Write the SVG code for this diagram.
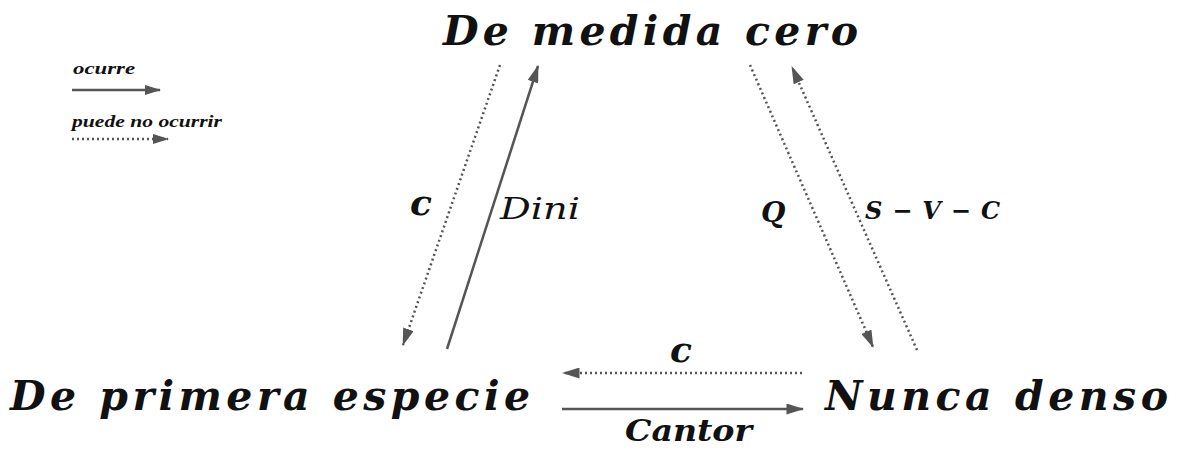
<svg xmlns="http://www.w3.org/2000/svg" width="1181" height="450" viewBox="0 0 1181 450">
<style>
.t{font-family:"DejaVu Serif","Liberation Serif",serif;font-style:italic;font-weight:bold;fill:#111}
.n{font-weight:normal}
.l{font-family:"Liberation Serif","DejaVu Serif",serif;font-style:italic;font-weight:bold;fill:#111}
.s{stroke:#555;stroke-width:2.5;fill:none}
.d{stroke:#555;stroke-width:2.5;fill:none;stroke-dasharray:2 3}
</style>
<defs>
<marker id="ah" viewBox="0 0 16 10" refX="15" refY="5" markerWidth="18" markerHeight="11" markerUnits="userSpaceOnUse" orient="auto">
<path d="M0,0 L16,5 L0,10 Z" fill="#555"/>
</marker>
<marker id="ahs" viewBox="0 0 16 10" refX="15" refY="5" markerWidth="22" markerHeight="10" markerUnits="userSpaceOnUse" orient="auto">
<path d="M0,0 L16,5 L0,10 Z" fill="#555"/>
</marker>
</defs>
<rect width="1181" height="450" fill="#fff"/>
<g id="legend">
<text class="l" x="73" y="74" font-size="17" textLength="62" lengthAdjust="spacingAndGlyphs">ocurre</text>
<line class="s" x1="72" y1="90" x2="160" y2="90" marker-end="url(#ahs)"/>
<text class="l" x="72" y="127" font-size="17" textLength="150" lengthAdjust="spacingAndGlyphs">puede no ocurrir</text>
<line class="d" x1="72" y1="139" x2="168" y2="139" marker-end="url(#ahs)"/>
</g>
<g id="node-medida"><text class="t" x="443" y="45" font-size="41" textLength="415" lengthAdjust="spacing">De medida cero</text></g>
<g id="node-primera"><text class="t" x="10" y="410" font-size="41" textLength="520" lengthAdjust="spacing">De primera especie</text></g>
<g id="node-nunca"><text class="t" x="825" y="410" font-size="41" textLength="343" lengthAdjust="spacing">Nunca denso</text></g>
<g id="connectors">
<line class="d" x1="500" y1="65" x2="403" y2="345" marker-end="url(#ah)"/>
<line class="s" x1="447" y1="349" x2="538" y2="66" marker-end="url(#ah)"/>
<line class="d" x1="750" y1="65" x2="873" y2="347" marker-end="url(#ah)"/>
<line class="d" x1="917" y1="350" x2="792" y2="67" marker-end="url(#ah)"/>
<line class="d" x1="802" y1="373" x2="563" y2="373" marker-end="url(#ah)"/>
<line class="s" x1="562" y1="409" x2="803" y2="409" marker-end="url(#ah)"/>
<text class="t" x="410" y="215" font-size="36">c</text>
<text class="t n" x="500" y="219" font-size="29" textLength="80" lengthAdjust="spacingAndGlyphs">Dini</text>
<text class="t" x="761" y="222" font-size="28">Q</text>
<text class="t" x="865" y="219" font-size="24" textLength="135" lengthAdjust="spacing">S − V − C</text>
<text class="t" x="670" y="362" font-size="36">c</text>
<text class="t" x="625" y="441" font-size="30" textLength="127" lengthAdjust="spacingAndGlyphs">Cantor</text>
</g>
</svg>
